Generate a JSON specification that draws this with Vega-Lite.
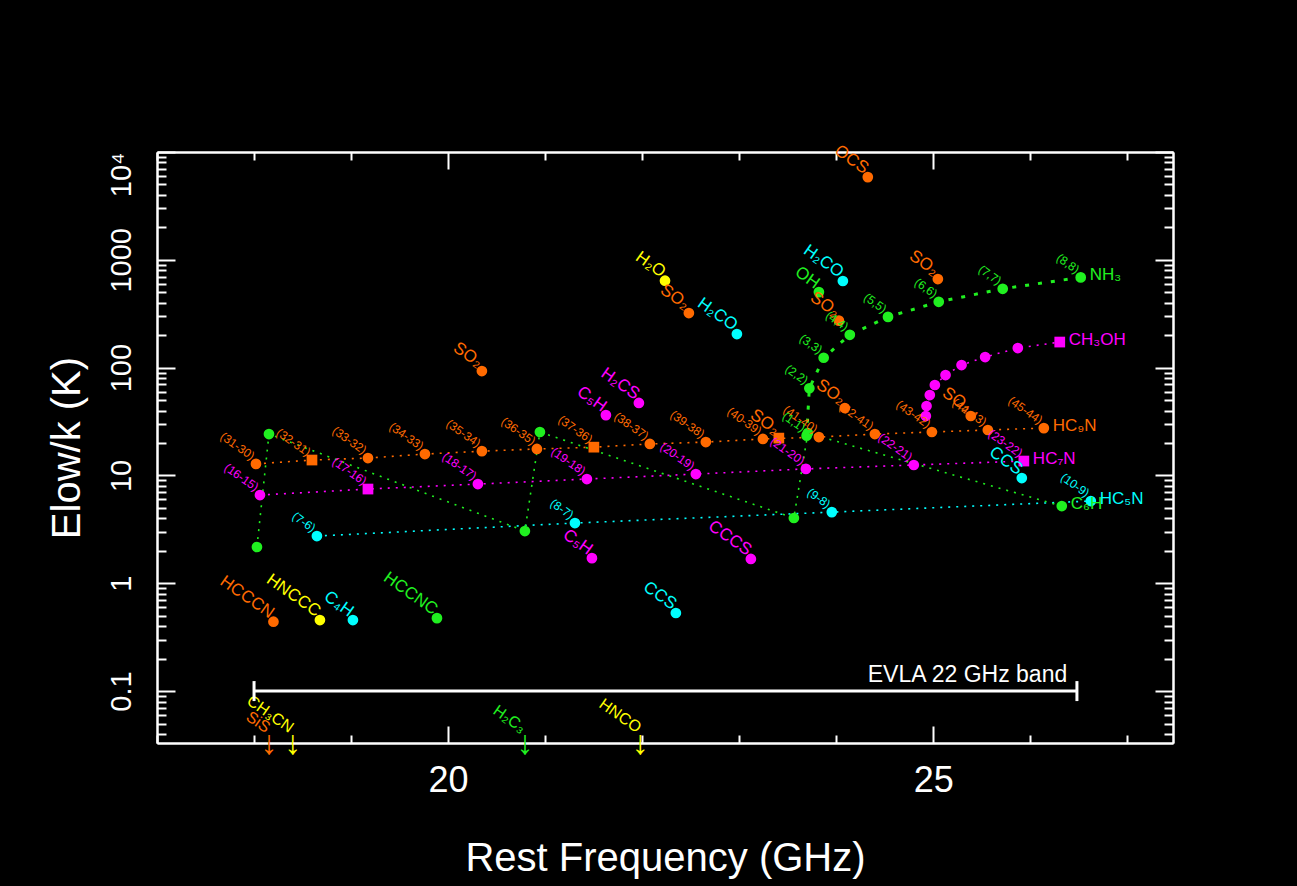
{
  "$schema": "https://vega.github.io/schema/vega-lite/v6.json",
  "width": 1016,
  "height": 591,
  "autosize": {"type": "none"},
  "padding": {"left": 157, "top": 152, "right": 124, "bottom": 143},
  "background": "black",
  "config": {
    "view": {"stroke": null},
    "axis": {"domainColor": "white", "domainWidth": 2, "tickColor": "white", "tickWidth": 2, "labelColor": "white", "titleColor": "white", "labelFont": "Liberation Sans", "titleFont": "Liberation Sans", "titleFontWeight": "normal", "grid": false, "labelFlush": false, "labelOverlap": false},
    "text": {"font": "Liberation Sans"}
  },
  "data": {"values": [
    {"kind": "ser", "mol": "HC9N", "freq": 18.020, "E": 12.8, "qn": "(31-30)"},
    {"kind": "ser", "mol": "HC9N", "freq": 18.597, "E": 13.9, "qn": "(32-31)", "sq": true},
    {"kind": "ser", "mol": "HC9N", "freq": 19.174, "E": 14.5, "qn": "(33-32)"},
    {"kind": "ser", "mol": "HC9N", "freq": 19.761, "E": 15.8, "qn": "(34-33)"},
    {"kind": "ser", "mol": "HC9N", "freq": 20.348, "E": 16.8, "qn": "(35-34)"},
    {"kind": "ser", "mol": "HC9N", "freq": 20.915, "E": 17.6, "qn": "(36-35)"},
    {"kind": "ser", "mol": "HC9N", "freq": 21.502, "E": 18.3, "qn": "(37-36)", "sq": true},
    {"kind": "ser", "mol": "HC9N", "freq": 22.079, "E": 19.6, "qn": "(38-37)"},
    {"kind": "ser", "mol": "HC9N", "freq": 22.656, "E": 20.4, "qn": "(39-38)"},
    {"kind": "ser", "mol": "HC9N", "freq": 23.244, "E": 21.8, "qn": "(40-39)"},
    {"kind": "ser", "mol": "HC9N", "freq": 23.821, "E": 22.7, "qn": "(41-40)"},
    {"kind": "ser", "mol": "HC9N", "freq": 24.398, "E": 24.2, "qn": "(42-41)"},
    {"kind": "ser", "mol": "HC9N", "freq": 24.985, "E": 25.3, "qn": "(43-42)"},
    {"kind": "ser", "mol": "HC9N", "freq": 25.562, "E": 26.4, "qn": "(44-43)"},
    {"kind": "ser", "mol": "HC9N", "freq": 26.139, "E": 27.5, "qn": "(45-44)", "end": "HC₉N"},
    {"kind": "ser", "mol": "HC7N", "freq": 18.061, "E": 6.58, "qn": "(16-15)"},
    {"kind": "ser", "mol": "HC7N", "freq": 19.174, "E": 7.48, "qn": "(17-16)", "sq": true},
    {"kind": "ser", "mol": "HC7N", "freq": 20.307, "E": 8.32, "qn": "(18-17)"},
    {"kind": "ser", "mol": "HC7N", "freq": 21.430, "E": 9.26, "qn": "(19-18)"},
    {"kind": "ser", "mol": "HC7N", "freq": 22.553, "E": 10.3, "qn": "(20-19)"},
    {"kind": "ser", "mol": "HC7N", "freq": 23.687, "E": 11.5, "qn": "(21-20)"},
    {"kind": "ser", "mol": "HC7N", "freq": 24.799, "E": 12.5, "qn": "(22-21)"},
    {"kind": "ser", "mol": "HC7N", "freq": 25.933, "E": 13.6, "qn": "(23-22)", "sq": true, "end": "HC₇N"},
    {"kind": "ser", "mol": "HC5N", "freq": 18.648, "E": 2.74, "qn": "(7-6)"},
    {"kind": "ser", "mol": "HC5N", "freq": 21.307, "E": 3.62, "qn": "(8-7)"},
    {"kind": "ser", "mol": "HC5N", "freq": 23.954, "E": 4.57, "qn": "(9-8)"},
    {"kind": "ser", "mol": "HC5N", "freq": 26.623, "E": 5.79, "qn": "(10-9)", "end": "HC₅N"},
    {"kind": "ser", "mol": "NH3", "freq": 23.6945, "E": 23.4, "qn": "(1,1)"},
    {"kind": "ser", "mol": "NH3", "freq": 23.7226, "E": 64.4, "qn": "(2,2)"},
    {"kind": "ser", "mol": "NH3", "freq": 23.8701, "E": 123.5, "qn": "(3,3)"},
    {"kind": "ser", "mol": "NH3", "freq": 24.1394, "E": 201.7, "qn": "(4,4)"},
    {"kind": "ser", "mol": "NH3", "freq": 24.533, "E": 295.6, "qn": "(5,5)"},
    {"kind": "ser", "mol": "NH3", "freq": 25.056, "E": 408.1, "qn": "(6,6)"},
    {"kind": "ser", "mol": "NH3", "freq": 25.7152, "E": 538.9, "qn": "(7,7)"},
    {"kind": "ser", "mol": "NH3", "freq": 26.519, "E": 687.0, "qn": "(8,8)", "end": "NH₃"},
    {"kind": "ser", "mol": "C6H", "freq": 18.030, "E": 2.17},
    {"kind": "ser", "mol": "C6H", "freq": 18.154, "E": 24.2},
    {"kind": "ser", "mol": "C6H", "freq": 20.791, "E": 3.05},
    {"kind": "ser", "mol": "C6H", "freq": 20.946, "E": 25.3},
    {"kind": "ser", "mol": "C6H", "freq": 23.563, "E": 4.03},
    {"kind": "ser", "mol": "C6H", "freq": 23.707, "E": 24.7},
    {"kind": "ser", "mol": "C6H", "freq": 26.324, "E": 5.20, "end": "C₆H"},
    {"kind": "ser", "mol": "CH3OH", "freq": 24.923, "E": 35.6},
    {"kind": "ser", "mol": "CH3OH", "freq": 24.930, "E": 44.0},
    {"kind": "ser", "mol": "CH3OH", "freq": 24.964, "E": 55.7},
    {"kind": "ser", "mol": "CH3OH", "freq": 25.016, "E": 69.0},
    {"kind": "ser", "mol": "CH3OH", "freq": 25.126, "E": 85.3},
    {"kind": "ser", "mol": "CH3OH", "freq": 25.291, "E": 105.7},
    {"kind": "ser", "mol": "CH3OH", "freq": 25.534, "E": 125.4},
    {"kind": "ser", "mol": "CH3OH", "freq": 25.871, "E": 152},
    {"kind": "ser", "mol": "CH3OH", "freq": 26.303, "E": 172.7, "sq": true, "end": "CH₃OH"},
    {"kind": "one", "mol": "H2O", "name": "H₂O", "freq": 22.235, "E": 640},
    {"kind": "one", "mol": "SO2", "name": "SO₂", "freq": 22.481, "E": 321},
    {"kind": "one", "mol": "H2CO", "name": "H₂CO", "freq": 22.976, "E": 205},
    {"kind": "one", "mol": "H2CO", "name": "H₂CO", "freq": 24.068, "E": 636},
    {"kind": "one", "mol": "OH", "name": "OH", "freq": 23.821, "E": 502},
    {"kind": "one", "mol": "SO2", "name": "SO₂", "freq": 24.027, "E": 273},
    {"kind": "one", "mol": "OCS", "name": "OCS", "freq": 24.325, "E": 5850},
    {"kind": "one", "mol": "SO2", "name": "SO₂", "freq": 25.047, "E": 663},
    {"kind": "one", "mol": "SO2", "name": "SO₂", "freq": 20.348, "E": 93},
    {"kind": "one", "mol": "H2CS", "name": "H₂CS", "freq": 21.966, "E": 47},
    {"kind": "one", "mol": "C5H", "name": "C₅H", "freq": 21.626, "E": 36.3},
    {"kind": "one", "mol": "C5H", "name": "C₅H", "freq": 21.482, "E": 1.71},
    {"kind": "one", "mol": "CCCS", "name": "CCCS", "freq": 23.120, "E": 1.68},
    {"kind": "one", "mol": "CCS", "name": "CCS", "freq": 22.347, "E": 0.53},
    {"kind": "one", "mol": "CCS", "name": "CCS", "freq": 25.912, "E": 9.46},
    {"kind": "one", "mol": "HCCCN", "name": "HCCCN", "freq": 18.200, "E": 0.44},
    {"kind": "one", "mol": "HNCCC", "name": "HNCCC", "freq": 18.679, "E": 0.456},
    {"kind": "one", "mol": "C4H", "name": "C₄H", "freq": 19.019, "E": 0.456},
    {"kind": "one", "mol": "HCCNC", "name": "HCCNC", "freq": 19.885, "E": 0.475},
    {"kind": "one", "mol": "SO2", "name": "SO₂", "freq": 23.408, "E": 22.2, "sq": true},
    {"kind": "one", "mol": "SO2", "name": "SO₂", "freq": 24.088, "E": 42.2},
    {"kind": "one", "mol": "SO2", "name": "SO₂", "freq": 25.386, "E": 35.6},
    {"kind": "arw", "mol": "SiS", "name": "SiS", "freq": 18.155, "E": 0.0336},
    {"kind": "arw", "mol": "CH3CN", "name": "CH₃CN", "freq": 18.398, "E": 0.0336},
    {"kind": "arw", "mol": "H2C3", "name": "H₂C₃", "freq": 20.792, "E": 0.0336},
    {"kind": "arw", "mol": "HNCO", "name": "HNCO", "freq": 21.981, "E": 0.0336},
    {"kind": "bar", "freq": 18.0, "freq2": 26.48, "E": 0.1},
    {"kind": "cap", "freq": 18.0, "E": 0.0808, "E2": 0.1238},
    {"kind": "cap", "freq": 26.48, "E": 0.0808, "E2": 0.1238},
    {"kind": "lab", "freq": 26.38, "E": 0.1, "name": "EVLA 22 GHz band"}
  ]},
  "encoding": {
    "x": {"field": "freq", "type": "quantitative", "scale": {"domain": [17, 27.47], "nice": false, "zero": false}, "axis": null},
    "y": {"field": "E", "type": "quantitative", "scale": {"type": "log", "domain": [0.033, 10000], "nice": false}, "axis": null},
    "color": {"field": "mol", "type": "nominal", "legend": null, "scale": {
      "domain": ["HC9N", "HC7N", "HC5N", "NH3", "C6H", "CH3OH", "H2O", "SO2", "H2CO", "OH", "OCS", "H2CS", "C5H", "CCCS", "CCS", "HCCCN", "HNCCC", "C4H", "HCCNC", "SiS", "CH3CN", "H2C3", "HNCO"],
      "range": ["#ff6a00", "#ff00ff", "#00ffff", "#20f020", "#20f020", "#ff00ff", "#ffff00", "#ff6a00", "#00ffff", "#20f020", "#ff6a00", "#ff00ff", "#ff00ff", "#ff00ff", "#00ffff", "#ff6a00", "#ffff00", "#00ffff", "#20f020", "#ff6a00", "#ffff00", "#20f020", "#ffff00"]}}
  },
  "layer": [
    {
      "transform": [{"filter": "datum.kind === 'ser' && datum.mol !== 'NH3'"}],
      "mark": {"type": "line", "strokeWidth": 1.6, "strokeDash": [2, 6]}
    },
    {
      "transform": [{"filter": "datum.kind === 'ser' && datum.mol === 'NH3'"}],
      "mark": {"type": "line", "strokeWidth": 3, "strokeDash": [4, 9]}
    },
    {
      "transform": [{"filter": "datum.kind === 'ser' || datum.kind === 'one'"}],
      "mark": {"type": "point", "filled": true, "size": 115, "opacity": 1},
      "encoding": {"shape": {"condition": {"test": "datum.sq", "value": "square"}, "value": "circle"}}
    },
    {
      "transform": [{"filter": "datum.kind === 'ser' && datum.qn"}],
      "mark": {"type": "text", "angle": 35, "align": "right", "baseline": "alphabetic", "dx": -6, "fontSize": 12},
      "encoding": {"text": {"field": "qn"}}
    },
    {
      "transform": [{"filter": "datum.kind === 'one'"}],
      "mark": {"type": "text", "angle": 35, "align": "right", "baseline": "alphabetic", "dx": -5, "fontSize": 17},
      "encoding": {"text": {"field": "name"}}
    },
    {
      "transform": [{"filter": "datum.kind === 'ser' && datum.end"}],
      "mark": {"type": "text", "align": "left", "baseline": "middle", "dx": 9, "dy": -2, "fontSize": 17},
      "encoding": {"text": {"field": "end"}}
    },
    {
      "transform": [{"filter": "datum.kind === 'arw'"}],
      "mark": {"type": "text", "align": "center", "baseline": "middle", "fontSize": 34, "dy": 2},
      "encoding": {"text": {"value": "↓"}}
    },
    {
      "transform": [{"filter": "datum.kind === 'arw'"}],
      "mark": {"type": "text", "angle": 35, "align": "right", "baseline": "alphabetic", "dx": -8, "dy": -5, "fontSize": 16},
      "encoding": {"text": {"field": "name"}}
    },
    {
      "transform": [{"filter": "datum.kind === 'bar'"}],
      "mark": {"type": "rule", "strokeWidth": 3},
      "encoding": {"x2": {"field": "freq2"}, "color": {"value": "white"}}
    },
    {
      "transform": [{"filter": "datum.kind === 'cap'"}],
      "mark": {"type": "rule", "strokeWidth": 3},
      "encoding": {"y2": {"field": "E2"}, "color": {"value": "white"}}
    },
    {
      "transform": [{"filter": "datum.kind === 'lab'"}],
      "mark": {"type": "text", "align": "right", "baseline": "alphabetic", "dy": -9, "fontSize": 23},
      "encoding": {"text": {"field": "name"}, "color": {"value": "white"}}
    },
    {
      "transform": [{"filter": "datum.kind === 'bar'"}],
      "mark": {"type": "point", "opacity": 0},
      "encoding": {
        "x": {"field": "freq", "type": "quantitative", "scale": {"domain": [17, 27.47], "nice": false, "zero": false},
              "axis": {"orient": "bottom", "values": [17, 18, 19, 21, 22, 23, 24, 26, 27], "tickSize": -8, "labels": false, "title": null}},
        "y": {"field": "E", "type": "quantitative", "scale": {"type": "log", "domain": [0.033, 10000], "nice": false},
              "axis": {"orient": "left", "values": [0.04, 0.05, 0.06, 0.07, 0.08, 0.09, 0.2, 0.3, 0.4, 0.5, 0.6, 0.7, 0.8, 0.9, 2, 3, 4, 5, 6, 7, 8, 9, 20, 30, 40, 50, 60, 70, 80, 90, 200, 300, 400, 500, 600, 700, 800, 900, 2000, 3000, 4000, 5000, 6000, 7000, 8000, 9000], "tickSize": -9, "labels": false, "title": null}}
      }
    },
    {
      "transform": [{"filter": "datum.kind === 'bar'"}],
      "mark": {"type": "point", "opacity": 0},
      "encoding": {
        "x": {"field": "freq", "type": "quantitative", "scale": {"domain": [17, 27.47], "nice": false, "zero": false},
              "axis": {"orient": "bottom", "values": [20, 25], "tickSize": -17, "labelFontSize": 36, "labelPadding": 37, "title": "Rest Frequency (GHz)", "titleFontSize": 40, "titlePadding": 40}},
        "y": {"field": "E", "type": "quantitative", "scale": {"type": "log", "domain": [0.033, 10000], "nice": false},
              "axis": {"orient": "left", "values": [0.1, 1, 10, 100, 1000, 10000], "tickSize": -18, "format": "~g", "labelExpr": "datum.value >= 9999 ? '10⁴' : datum.label", "labelAngle": -90, "labelAlign": {"condition": {"test": "datum.value >= 9999", "value": "right"}, "value": "center"}, "labelBaseline": "bottom", "labelFontSize": 29, "labelPadding": 39, "title": "Elow/k (K)", "titleFontSize": 40, "titlePadding": 20}}
      }
    },
    {
      "transform": [{"filter": "datum.kind === 'bar'"}],
      "mark": {"type": "point", "opacity": 0},
      "encoding": {
        "x": {"field": "freq", "type": "quantitative", "scale": {"domain": [17, 27.47], "nice": false, "zero": false},
              "axis": {"orient": "top", "values": [17, 18, 19, 21, 22, 23, 24, 26, 27], "tickSize": -8, "labels": false, "title": null}},
        "y": {"field": "E", "type": "quantitative", "scale": {"type": "log", "domain": [0.033, 10000], "nice": false},
              "axis": {"orient": "right", "values": [0.04, 0.05, 0.06, 0.07, 0.08, 0.09, 0.2, 0.3, 0.4, 0.5, 0.6, 0.7, 0.8, 0.9, 2, 3, 4, 5, 6, 7, 8, 9, 20, 30, 40, 50, 60, 70, 80, 90, 200, 300, 400, 500, 600, 700, 800, 900, 2000, 3000, 4000, 5000, 6000, 7000, 8000, 9000], "tickSize": -9, "labels": false, "title": null}}
      }
    },
    {
      "transform": [{"filter": "datum.kind === 'bar'"}],
      "mark": {"type": "point", "opacity": 0},
      "encoding": {
        "x": {"field": "freq", "type": "quantitative", "scale": {"domain": [17, 27.47], "nice": false, "zero": false},
              "axis": {"orient": "top", "values": [20, 25], "tickSize": -17, "labels": false, "title": null}},
        "y": {"field": "E", "type": "quantitative", "scale": {"type": "log", "domain": [0.033, 10000], "nice": false},
              "axis": {"orient": "right", "values": [0.1, 1, 10, 100, 1000, 10000], "tickSize": -18, "labels": false, "title": null}}
      }
    }
  ],
  "resolve": {"axis": {"x": "independent", "y": "independent"}}
}
